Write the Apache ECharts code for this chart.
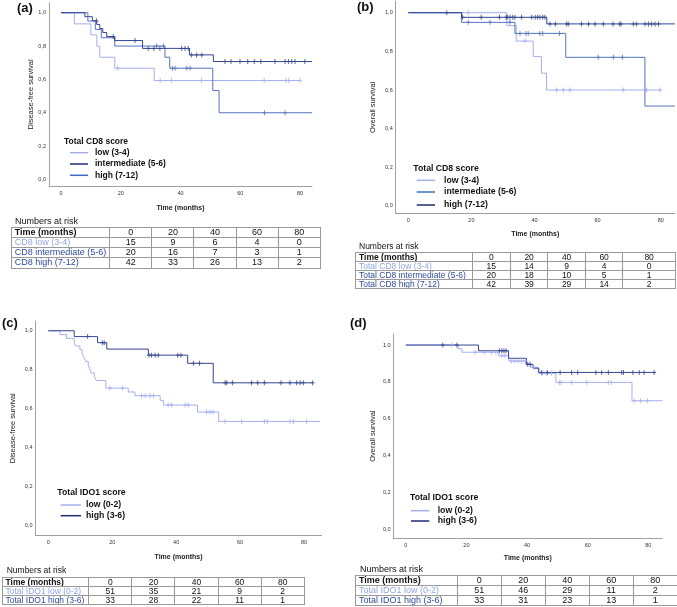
<!DOCTYPE html>
<html><head><meta charset="utf-8">
<script src="https://cdn.jsdelivr.net/npm/echarts@6/dist/echarts.min.js"></script>
<style>
html,body{margin:0;padding:0;background:#fff;}
#chart{position:absolute;left:0;top:0;width:677px;height:607px;}
.cap{position:absolute;font-family:'Liberation Sans',Arial,sans-serif;color:#111;white-space:nowrap;}
table.risk{position:absolute;border-collapse:collapse;table-layout:fixed;font-family:'Liberation Sans',Arial,sans-serif;color:#111;}
table.risk td{border:1px solid #9a9a9a;padding:0 0 0 3px;white-space:nowrap;overflow:hidden;}
table.risk td.n{text-align:center;padding:0;}
</style></head><body>
<div id="chart"></div>
<div id="tables"></div>
<script>
// ---------- data ----------
const timeTicks = [0, 20, 40, 60, 80];

// (a) Disease-free survival by total CD8 score
const aLowT = [0, 4.5, 10, 12, 13, 18, 31.2];
const aLowS = [1, 0.933, 0.867, 0.8, 0.733, 0.667, 0.593];
const aLowC = [19, 33.2, 37, 47, 68, 75.3, 76.2, 80];
const aLowEnd = 80;
const aIntT = [0, 9, 11.5, 13.5, 18, 34.8, 36.4, 50.8, 52.9];
const aIntS = [1, 0.95, 0.9, 0.85, 0.8, 0.733, 0.667, 0.533, 0.4];
const aIntC = [32, 34.3, 37.3, 38.2, 42.1, 43.2, 68.1, 75];
const aIntEnd = 84;
const aHighT = [0, 8, 10.5, 12, 13, 14, 15.3, 18, 27.3, 43, 51];
const aHighS = [1, 0.976, 0.952, 0.929, 0.905, 0.881, 0.857, 0.833, 0.786, 0.747, 0.707];
const aHighC = [11.9, 17.5, 24.8, 29.2, 31.1, 33.1, 40.4, 41.5, 42.6, 43.7, 45.4, 47.1, 54.9, 56.9, 59.9, 62.5, 64.7, 66.9, 71.6, 75.0, 76.1, 77.2, 78.3, 81.6];
const aHighEnd = 84;

// (b) Overall survival by total CD8 score
const bLowT = [0, 31.2, 34.2, 39.6, 42.2, 43.8];
const bLowS = [1, 0.933, 0.853, 0.773, 0.687, 0.6];
const bLowC = [19, 37, 47, 49.1, 51.2, 68.1, 75.5, 79.8];
const bLowEnd = 80;
const bIntT = [0, 16.9, 33.8, 49.9, 75];
const bIntS = [1, 0.95, 0.893, 0.769, 0.517];
const bIntC = [19, 25.9, 32.2, 35.4, 37.3, 38, 41.7, 42.6, 47.9, 60.2, 65, 67.9];
const bIntEnd = 84.5;
const bHighT = [0, 16.9, 43.9];
const bHighS = [1, 0.976, 0.942];
const bHighC = [12.2, 17.2, 23.1, 28.9, 31.0, 31.4, 32.2, 33.1, 33.8, 35.9, 39.1, 40.2, 41.0, 41.7, 42.6, 43.3, 44.9, 46.6, 50.2, 50.7, 54.9, 57.1, 59.2, 61.8, 64.9, 67.0, 67.4, 71.3, 72.3, 75.0, 76.1, 77.1, 78.2, 79.3];
const bHighEnd = 84.5;

// (c) Disease-free survival by total IDO1 score
const cLowT = [0, 3.7, 5.7, 8.1, 8.5, 9.9, 10.6, 11.2, 11.7, 12.5, 13.0, 13.4, 14.4, 15.0, 18.0, 25.0, 27.1, 35.0, 36.0, 46.7, 53.3];
const cLowS = [1, 0.980, 0.961, 0.941, 0.922, 0.902, 0.882, 0.863, 0.843, 0.824, 0.804, 0.784, 0.765, 0.745, 0.706, 0.686, 0.667, 0.643, 0.619, 0.583, 0.535];
const cLowC = [19.3, 23.2, 29.2, 30.3, 31.8, 32.9, 37.5, 38.6, 42.8, 43.8, 49.5, 50.6, 51.6, 55.3, 60.5, 67.6, 68.5, 75.6, 76.7, 80.8];
const cLowEnd = 85;
const cHighT = [0, 8.1, 15.4, 18.3, 31.3, 43.6, 51.6];
const cHighS = [1, 0.970, 0.939, 0.906, 0.875, 0.833, 0.733];
const cHighC = [12.3, 16.9, 17.5, 31.5, 32.3, 33.4, 34.4, 40.5, 41.5, 45.4, 47.3, 55.3, 55.8, 57.6, 63.6, 65.5, 67.6, 72.8, 75.6, 77.7, 78.8, 79.8, 82.7];
const cHighEnd = 82.9;

// (d) Overall survival by total IDO1 score
const dLowT = [0, 17.2, 18.5, 30.5, 34.0, 39.7, 41.2, 43.7, 49.5, 74.6];
const dLowS = [1, 0.98, 0.961, 0.942, 0.913, 0.897, 0.879, 0.846, 0.797, 0.697];
const dLowC = [15.2, 22.9, 25.9, 28.3, 29.7, 31.7, 32.7, 34.9, 36.0, 37.1, 38.2, 39.3, 42.2, 45.2, 46.5, 48.1, 50.7, 51.2, 54.7, 59.7, 66.8, 67.8, 75.3, 77.5, 79.7];
const dLowEnd = 84.7;
const dHighT = [0, 24.0, 33.9, 39.8, 42.0, 43.9];
const dHighS = [1, 0.969, 0.928, 0.895, 0.874, 0.851];
const dHighC = [12.2, 16.9, 30.9, 31.7, 32.4, 33.1, 40.2, 41.0, 44.8, 46.7, 50.9, 54.7, 56.7, 62.7, 64.6, 66.8, 71.2, 71.8, 74.9, 77.0, 78.6, 81.9];
const dHighEnd = 82.4;

// numbers at risk
const riskA = [['CD8 low (3-4)', 15, 9, 6, 4, 0], ['CD8 intermediate (5-6)', 20, 16, 7, 3, 1], ['CD8 high (7-12)', 42, 33, 26, 13, 2]];
const riskB = [['Total CD8 low (3-4)', 15, 14, 9, 4, 0], ['Total CD8 intermediate (5-6)', 20, 18, 10, 5, 1], ['Total CD8 high (7-12)', 42, 39, 29, 14, 2]];
const riskC = [['Total IDO1 low (0-2)', 51, 35, 21, 9, 2], ['Total IDO1 high (3-6)', 33, 28, 22, 11, 1]];
const riskD = [['Total IDO1 low (0-2)', 51, 46, 29, 11, 2], ['Total IDO1 high (3-6)', 33, 31, 23, 13, 1]];

// ---------- styling ----------
const FONT = "'Liberation Sans', Arial, sans-serif";
const C_LIGHT = '#a6aef0', C_MED = '#5573bd', C_DARK = '#34468f';
const L_LIGHT = '#a6aef0', L_MED = '#3a6cc2', L_NAVY = '#1e2c78';
const T_LIGHT = '#91a6e4', T_BLUE = '#2f4c9c';

function survAt(T, S, t) { let v = S[0]; for (let i = 0; i < T.length; i++) if (T[i] <= t + 1e-9) v = S[i]; return v; }

const panels = [
  { label: '(a)', lx: 17, ly: 8, grid: { left: 49, top: 2.7, width: 263, height: 183.4 }, xmax: 84, ymin: -0.04, ymax: 1.06, yint: 0.04,
    yname: 'Disease-free survival', yGap: 14, xGap: 18.5,
    curves: [[aLowT, aLowS, aLowC, aLowEnd, C_LIGHT], [aIntT, aIntS, aIntC, aIntEnd, C_MED], [aHighT, aHighS, aHighC, aHighEnd, C_DARK]],
    legend: { title: 'Total CD8 score', tx: 64, ty: 141.7, lx1: 70, lx2: 88, textX: 95, ys: [152.7, 164, 175.3], fs: 8.5,
      items: [['low (3-4)', L_LIGHT], ['intermediate (5-6)', L_NAVY], ['high (7-12)', L_MED]] } },
  { label: '(b)', lx: 357, ly: 7, grid: { left: 395.7, top: 1.1, width: 279.2, height: 212.6 }, xmax: 84.5, ymin: -0.04, ymax: 1.06, yint: 0.04,
    yname: 'Overall survival', yGap: 18.5, xGap: 17,
    curves: [[bLowT, bLowS, bLowC, bLowEnd, C_LIGHT], [bIntT, bIntS, bIntC, bIntEnd, C_MED], [bHighT, bHighS, bHighC, bHighEnd, C_DARK]],
    legend: { title: 'Total CD8 score', tx: 413.3, ty: 168.3, lx1: 416.7, lx2: 435, textX: 444, ys: [180.3, 192, 205], fs: 8.7,
      items: [['low (3-4)', L_LIGHT], ['intermediate (5-6)', L_MED], ['high (7-12)', L_NAVY]] } },
  { label: '(c)', lx: 2, ly: 323, grid: { left: 35.5, top: 321, width: 286.1, height: 214.5 }, xmax: 85.5, ymin: -0.05, ymax: 1.05, yint: 0.05,
    yname: 'Disease-free survival', yGap: 18.5, xGap: 18.5,
    curves: [[cLowT, cLowS, cLowC, cLowEnd, C_LIGHT], [cHighT, cHighS, cHighC, cHighEnd, C_DARK]],
    legend: { title: 'Total IDO1 score', tx: 57.3, ty: 492.7, lx1: 60.7, lx2: 81, textX: 86, ys: [505, 515.7], fs: 8.7,
      items: [['low (0-2)', L_LIGHT], ['high (3-6)', L_NAVY]] } },
  { label: '(d)', lx: 350, ly: 323.3, grid: { left: 393.6, top: 334, width: 268.4, height: 204.2 }, xmax: 84.5, ymin: -0.05, ymax: 1.06, yint: 0.05,
    yname: 'Overall survival', yGap: 17, xGap: 16.5,
    curves: [[dLowT, dLowS, dLowC, dLowEnd, C_LIGHT], [dHighT, dHighS, dHighC, dHighEnd, C_DARK]],
    legend: { title: 'Total IDO1 score', tx: 410, ty: 498, lx1: 411, lx2: 429.3, textX: 437.7, ys: [510.7, 521], fs: 8.7,
      items: [['low (0-2)', L_LIGHT], ['high (3-6)', L_NAVY]] } }
];

const xFmt = v => { const r = Math.round(v); return (Math.abs(v - r) < 1e-6 && r >= 0 && r % 20 === 0 && timeTicks.includes(r)) ? String(r) : ''; };
const yFmt = v => { const r = Math.round(v * 10); return (Math.abs(v * 10 - r) < 1e-6 && r >= 0 && r <= 10 && r % 2 === 0) ? (r / 10).toFixed(1).replace('.', ',') : ''; };

const CENSOR = 'path://M1.5,0L2.5,0L2.5,5L1.5,5Z M0,2L4,2L4,3L0,3Z';

const grids = [], xAxes = [], yAxes = [], series = [], graphics = [];
panels.forEach((p, k) => {
  grids.push(Object.assign({ outerBoundsMode: 'none', containLabel: false }, p.grid));
  xAxes.push({ gridIndex: k, type: 'value', min: -4, max: p.xmax, interval: 4,
    axisLine: { show: true, onZero: false, lineStyle: { color: '#a0a0a0', width: 1 } },
    axisTick: { show: false }, splitLine: { show: false },
    axisLabel: { fontSize: 5.5, color: '#333', margin: 4, formatter: xFmt, showMinLabel: true, showMaxLabel: true },
    name: 'Time (months)', nameLocation: 'middle', nameGap: p.xGap,
    nameTextStyle: { fontSize: 7, fontWeight: 'bold', color: '#222', fontFamily: FONT } });
  yAxes.push({ gridIndex: k, type: 'value', min: p.ymin, max: p.ymax, interval: p.yint,
    axisLine: { show: true, onZero: false, lineStyle: { color: '#a0a0a0', width: 1 } },
    axisTick: { show: false }, splitLine: { show: false },
    axisLabel: { fontSize: 5.5, color: '#333', margin: 3, formatter: yFmt },
    name: p.yname, nameLocation: 'middle', nameGap: p.yGap,
    nameTextStyle: { fontSize: 7.5, color: '#222', fontFamily: FONT } });
  p.curves.forEach(([T, S, C, end, col]) => {
    const line = T.map((t, i) => [t, S[i]]);
    line.push([end, S[S.length - 1]]);
    series.push({ type: 'line', xAxisIndex: k, yAxisIndex: k, step: 'end', symbol: 'none', silent: true,
      lineStyle: { width: 1, color: col }, data: line, z: 2 });
    series.push({ type: 'scatter', xAxisIndex: k, yAxisIndex: k, symbol: CENSOR, symbolSize: [4, 5], silent: true,
      itemStyle: { color: col }, data: C.map(t => [t, survAt(T, S, t)]), z: 3 });
  });
  graphics.push({ type: 'text', x: p.lx, y: p.ly, style: { text: p.label, fontSize: 13, fontWeight: 'bold', fill: '#111', fontFamily: FONT, verticalAlign: 'middle' } });
  const L = p.legend;
  graphics.push({ type: 'text', x: L.tx, y: L.ty, style: { text: L.title, fontSize: L.fs, fontWeight: 'bold', fill: '#111', fontFamily: FONT, verticalAlign: 'middle' } });
  L.items.forEach(([name, col], i) => {
    graphics.push({ type: 'line', shape: { x1: L.lx1, y1: L.ys[i], x2: L.lx2, y2: L.ys[i] }, style: { stroke: col, lineWidth: 1.5 } });
    graphics.push({ type: 'text', x: L.textX, y: L.ys[i], style: { text: name, fontSize: L.fs, fontWeight: 'bold', fill: '#111', fontFamily: FONT, verticalAlign: 'middle' } });
  });
});

const chart = echarts.init(document.getElementById('chart'), null, { renderer: 'canvas' });
chart.setOption({
  animation: false,
  textStyle: { fontFamily: FONT },
  grid: grids, xAxis: xAxes, yAxis: yAxes, series: series, graphic: graphics
});

// ---------- numbers-at-risk tables ----------
const tables = [
  { rows: riskA, cap: [15, 215.5], left: 10.7, top: 226.7, widths: [98.6, 42.1, 42.1, 42.1, 42.1, 42.1], rowH: 10.2, fs: 9, colors: [T_LIGHT, T_BLUE, T_BLUE] },
  { rows: riskB, cap: [359, 242.3], left: 355, top: 252.3, widths: [116.7, 38.3, 37.3, 37.7, 37.3, 52.7], rowH: 9, fs: 8.5, colors: [T_LIGHT, T_BLUE, T_BLUE] },
  { rows: riskC, cap: [6.7, 565.7], left: 1.5, top: 576.7, widths: [86.8, 43.1, 43.1, 43.1, 43.1, 43.1], rowH: 9.1, fs: 8.5, colors: [T_LIGHT, T_BLUE] },
  { rows: riskD, cap: [360, 564], left: 355, top: 575, widths: [101.7, 44, 44, 44, 44, 44], rowH: 10, fs: 9, colors: [T_LIGHT, T_BLUE] }
];
const host = document.getElementById('tables');
tables.forEach(tb => {
  const cap = document.createElement('div');
  cap.className = 'cap';
  cap.textContent = 'Numbers at risk';
  cap.style.cssText += `left:${tb.cap[0]}px;top:${tb.cap[1]}px;font-size:${tb.fs}px;line-height:${tb.fs + 1}px;`;
  host.appendChild(cap);
  const t = document.createElement('table');
  t.className = 'risk';
  const total = tb.widths.reduce((a, b) => a + b, 0);
  t.style.cssText = `left:${tb.left}px;top:${tb.top}px;width:${total}px;font-size:${tb.fs}px;`;
  const cg = document.createElement('colgroup');
  tb.widths.forEach(w => { const c = document.createElement('col'); c.style.width = w + 'px'; cg.appendChild(c); });
  t.appendChild(cg);
  const allRows = [['Time (months)'].concat(timeTicks)].concat(tb.rows);
  allRows.forEach((r, ri) => {
    const tr = document.createElement('tr');
    tr.style.height = tb.rowH + 'px';
    r.forEach((v, ci) => {
      const td = document.createElement('td');
      td.textContent = v;
      td.style.lineHeight = (tb.rowH - 1) + 'px';
      td.style.height = (tb.rowH - 1) + 'px';
      if (ci > 0) td.className = 'n';
      if (ri === 0 && ci === 0) td.style.fontWeight = 'bold';
      if (ri > 0 && ci === 0) td.style.color = tb.colors[ri - 1];
      tr.appendChild(td);
    });
    t.appendChild(tr);
  });
  host.appendChild(t);
});
</script>
</body></html>
